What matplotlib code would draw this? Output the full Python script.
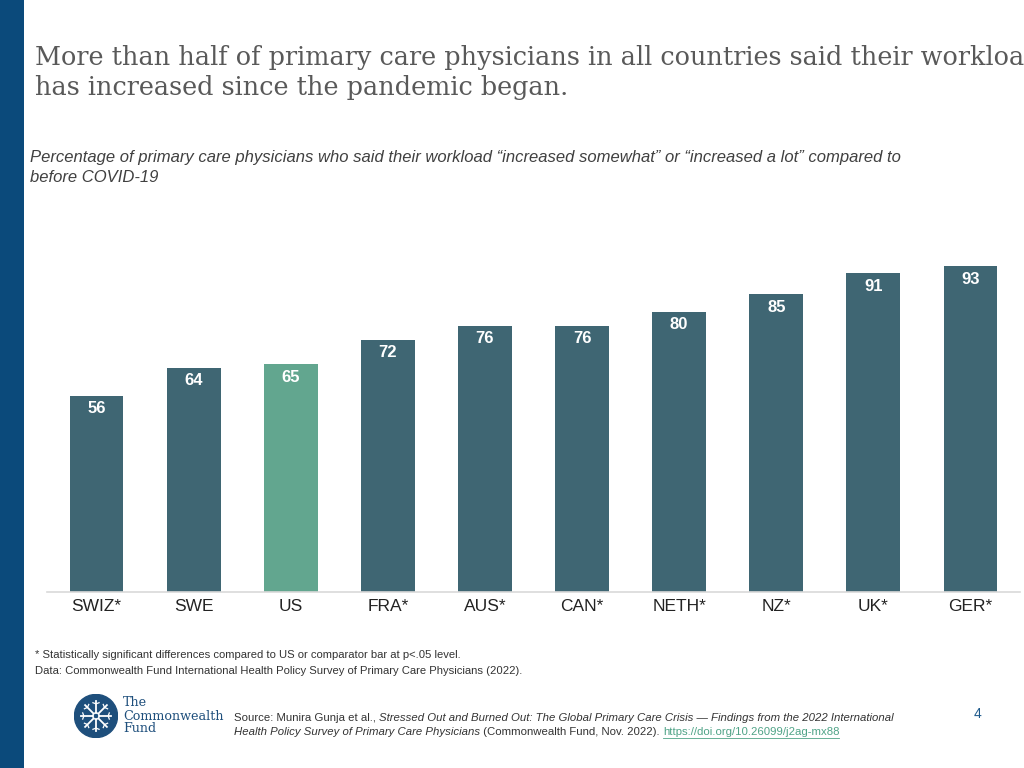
import matplotlib
matplotlib.use("Agg")
import matplotlib.pyplot as plt
from matplotlib.patches import Circle, Rectangle
import numpy as np

categories = ["SWIZ*", "SWE", "US", "FRA*", "AUS*", "CAN*", "NETH*", "NZ*", "UK*", "GER*"]
values = [56, 64, 65, 72, 76, 76, 80, 85, 91, 93]
highlight = "US"

BAR = "#3F6673"
HL = "#62A68F"
W, H = 1024, 768

fig = plt.figure(figsize=(W / 100, H / 100), dpi=100)
fig.patch.set_facecolor("white")

def fx(x):
    return x / W

def fy(y):
    return 1 - y / H

# left stripe
fig.patches.append(Rectangle((0, 0), fx(24), 1, transform=fig.transFigure,
                             facecolor="#0B4A7B", edgecolor="none", zorder=0))

# title
fig.text(fx(35), fy(72.5), "More than half of primary care physicians in all countries said their workload\nhas increased since the pandemic began.",
         family="DejaVu Serif", fontsize=18.4, color="#595959", va="center", ha="left",
         linespacing=1.28)

# subtitle
fig.text(fx(30), fy(167.5), "Percentage of primary care physicians who said their workload \u201cincreased somewhat\u201d or \u201cincreased a lot\u201d compared to\nbefore COVID-19",
         family="Liberation Sans", style="italic", fontsize=12.0, color="#404040",
         va="center", ha="left", linespacing=1.47)

# axes
ax_left, ax_right = 47, 1020
base_y, top_y = 591.5, 591.5 - 3.5 * 100
ax = fig.add_axes([fx(ax_left), fy(base_y), fx(ax_right - ax_left), (base_y - top_y) / H])
x = np.arange(len(categories))
colors = [HL if c == highlight else BAR for c in categories]
bars = ax.bar(x, values, width=0.555, color=colors, zorder=2)
ax.set_xlim(-0.51, len(categories) - 0.49)
ax.set_ylim(0, 100)
for s in ["top", "right", "left"]:
    ax.spines[s].set_visible(False)
ax.spines["bottom"].set_color("#D9D9D9")
ax.spines["bottom"].set_linewidth(1.2)
ax.set_yticks([])
ax.set_xticks(x)
ax.set_xticklabels(categories, family="Liberation Sans", fontsize=12.5, color="#222222")
ax.tick_params(axis="x", length=0, pad=5.5)
ax.set_facecolor("none")
for xi, v in zip(x, values):
    ax.annotate(f"{v}", (xi, v), xytext=(0, -4), textcoords="offset points",
                ha="center", va="top", color="white", fontweight="bold",
                family="Liberation Sans", fontsize=12)

# footnotes
fig.text(fx(35), fy(655), "* Statistically significant differences compared to US or comparator bar at p<.05 level.",
         family="Liberation Sans", fontsize=8.13, color="#333333", va="center")
fig.text(fx(35), fy(671), "Data: Commonwealth Fund International Health Policy Survey of Primary Care Physicians (2022).",
         family="Liberation Sans", fontsize=8.13, color="#333333", va="center")

# logo
ax_logo = fig.add_axes([fx(74), fy(738), fx(44), 44 / H])
ax_logo.set_xlim(-1, 1)
ax_logo.set_ylim(-1, 1)
ax_logo.set_aspect("equal")
ax_logo.axis("off")
ax_logo.add_patch(Circle((0, 0), 0.98, color="#1E4F7C"))
for a in np.linspace(0, 2 * np.pi, 8, endpoint=False):
    ax_logo.plot([0.15 * np.cos(a), 0.7 * np.cos(a)], [0.15 * np.sin(a), 0.7 * np.sin(a)],
                 color="white", lw=1.3)
    ax_logo.plot([0.55 * np.cos(a) + 0.15 * np.cos(a + 1.2), 0.55 * np.cos(a), 0.55 * np.cos(a) + 0.15 * np.cos(a - 1.2)],
                 [0.55 * np.sin(a) + 0.15 * np.sin(a + 1.2), 0.55 * np.sin(a), 0.55 * np.sin(a) + 0.15 * np.sin(a - 1.2)],
                 color="white", lw=0.9)
ax_logo.add_patch(Circle((0, 0), 0.15, facecolor="none", edgecolor="white", lw=0.9))
for i, t in enumerate(["The", "Commonwealth", "Fund"]):
    fig.text(fx(123), fy(703 + 13 * i), t, family="DejaVu Serif", fontsize=9.2,
             color="#1E4F7C", va="center", ha="left")

# source line with mixed styles
renderer = fig.canvas.get_renderer()

def run(x0, y0, pieces):
    xp = x0
    for txt, style, color, underline in pieces:
        t = fig.text(fx(xp), fy(y0), txt, family="Liberation Sans", fontsize=8.2,
                     style=style, color=color, va="center", ha="left")
        bb = t.get_window_extent(renderer)
        if underline:
            fig.lines.append(plt.Line2D([fx(xp), fx(xp) + bb.width / W], [fy(y0 + 6)] * 2,
                                        transform=fig.transFigure, color=color, lw=0.6))
        xp += bb.width

run(234, 718, [("Source: Munira Gunja et al., ", "normal", "#333333", False),
               ("Stressed Out and Burned Out: The Global Primary Care Crisis \u2014 Findings from the 2022 International", "italic", "#333333", False)])
run(234, 732, [("Health Policy Survey of Primary Care Physicians", "italic", "#333333", False),
               (" (Commonwealth Fund, Nov. 2022). ", "normal", "#333333", False),
               ("https://doi.org/10.26099/j2ag-mx88", "normal", "#4FA387", True)])

fig.text(fx(978), fy(714), "4", family="Liberation Sans", fontsize=10, color="#1E5A8C",
         va="center", ha="center")

fig.savefig("out.png", dpi=100)
